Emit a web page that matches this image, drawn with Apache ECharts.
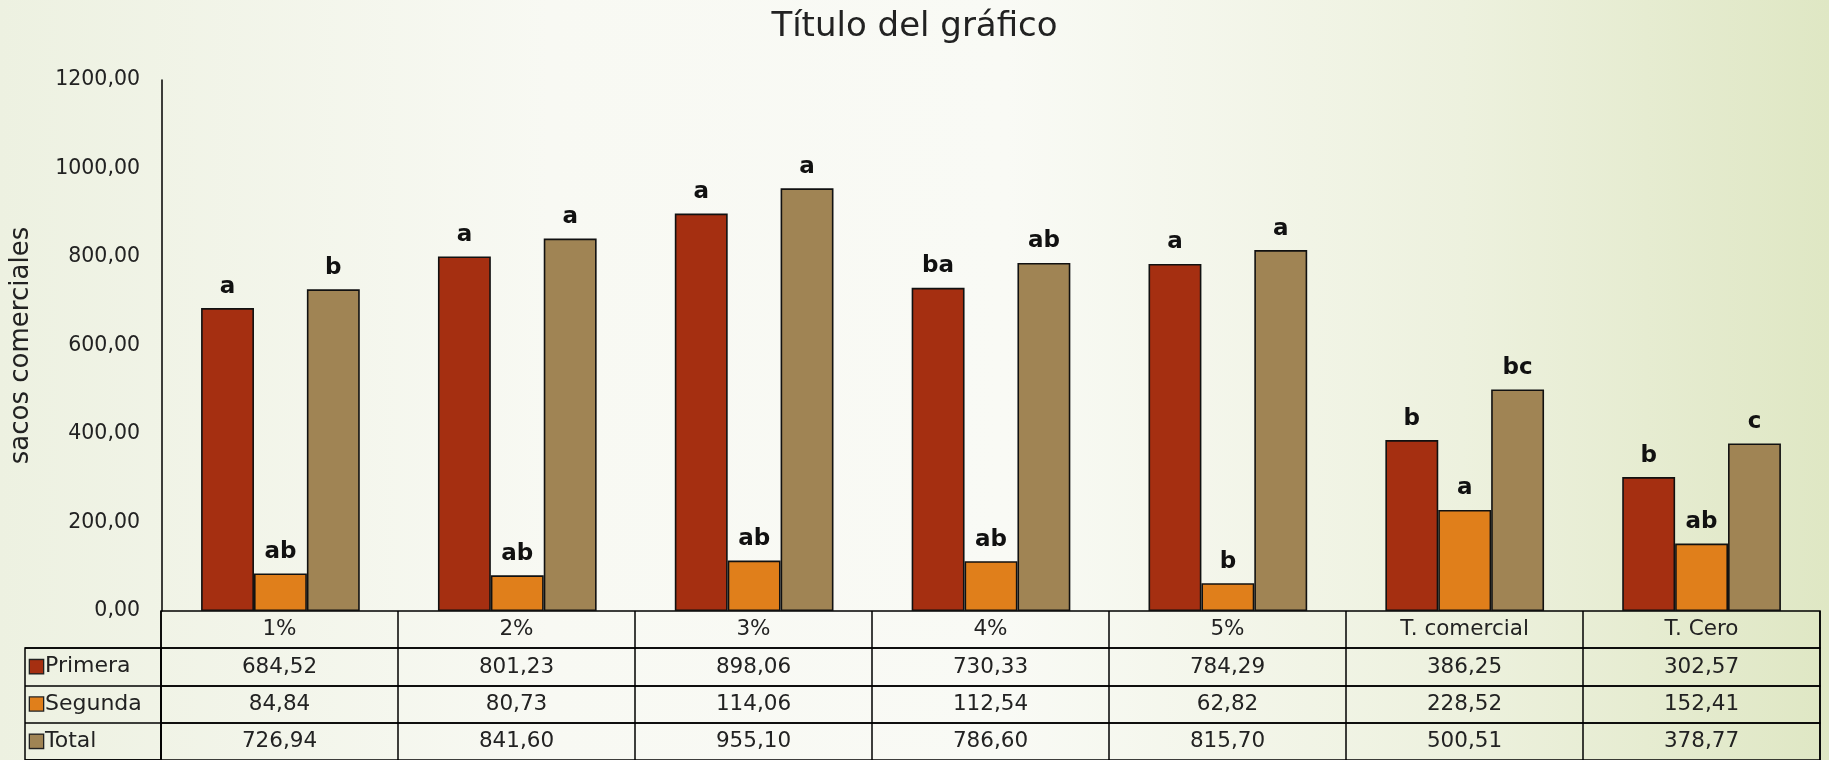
<!DOCTYPE html>
<html>
<head>
<meta charset="utf-8">
<script src="https://cdn.jsdelivr.net/npm/echarts@6/dist/echarts.min.js"></script>
<style>
  html, body { margin: 0; padding: 0; }
  #chart { width: 1829px; height: 760px; }
</style>
</head>
<body>
<div id="chart"></div>
<script>
// datos
const categories = ['1%', '2%', '3%', '4%', '5%', 'T. comercial', 'T. Cero'];
const primera = [684.52, 801.23, 898.06, 730.33, 784.29, 386.25, 302.57];
const segunda = [84.84, 80.73, 114.06, 112.54, 62.82, 228.52, 152.41];
const total = [726.94, 841.60, 955.10, 786.60, 815.70, 500.51, 378.77];
const primeraLetras = ['a', 'a', 'a', 'ba', 'a', 'b', 'b'];
const segundaLetras = ['ab', 'ab', 'ab', 'ab', 'b', 'a', 'ab'];
const totalLetras = ['b', 'a', 'a', 'ab', 'a', 'bc', 'c'];
const serieNombres = ['Primera', 'Segunda', 'Total'];
const yTicks = { min: 0, max: 1200, interval: 200 };

const colores = ['#A52F11', '#E07F1B', '#A08454'];
const FONT = 'DejaVu Sans';
const fmt = (v) => v.toFixed(2).replace('.', ',');

const chart = echarts.init(document.getElementById('chart'));

const LEFT = 161, RIGHT = 9;
// filas de la tabla: [top, height]
const filas = [[611, 37], [648, 38], [686, 37], [723, 40]];
const valoresFila = [null, primera, segunda, total];

const grids = [{ left: LEFT, right: RIGHT, top: 80, bottom: 760 - 611 }];
const xAxes = [{
    type: 'category', gridIndex: 0, data: categories,
    axisLine: { show: false }, axisTick: { show: false }, axisLabel: { show: false }
}];
const yAxes = [{
    type: 'value', gridIndex: 0, min: yTicks.min, max: yTicks.max, interval: yTicks.interval,
    name: 'sacos comerciales', nameLocation: 'middle', nameGap: 128, nameRotate: 90,
    nameTextStyle: { fontFamily: FONT, fontSize: 26, color: '#222' },
    axisLine: { show: true, lineStyle: { color: '#000', width: 1.5 } },
    axisTick: { show: false },
    splitLine: { show: false },
    axisLabel: { fontFamily: FONT, fontSize: 20.5, color: '#222', margin: 22, formatter: (v) => fmt(v) }
}];

filas.forEach(([top, height], i) => {
    grids.push({ left: LEFT, right: RIGHT, top, height, show: true, borderColor: '#000', borderWidth: 1.5, backgroundColor: 'transparent' });
    const vals = valoresFila[i];
    xAxes.push({
        type: 'category', gridIndex: i + 1, data: categories,
        axisLine: { show: false }, axisTick: { show: false },
        splitLine: { show: true, interval: 0, lineStyle: { color: '#000', width: 1.5 } },
        axisLabel: {
            inside: true, interval: 0, margin: (i === 3 ? 38 : height) / 2, verticalAlign: 'middle',
            fontFamily: FONT, fontSize: 21.5, color: '#222',
            formatter: (v, idx) => vals ? fmt(vals[idx]) : v
        }
    });
    yAxes.push({ type: 'value', gridIndex: i + 1, show: false });
});

// columna de leyenda
grids.push({ left: 25, width: LEFT - 25, top: 648, height: 115, show: true, borderColor: '#000', borderWidth: 1.5, backgroundColor: 'transparent' });
const gLeg = grids.length - 1;
xAxes.push({ type: 'value', gridIndex: gLeg, show: false });
yAxes.push({
    type: 'category', gridIndex: gLeg, data: serieNombres, inverse: true,
    axisLine: { show: false }, axisTick: { show: false },
    splitLine: { show: true, interval: 0, lineStyle: { color: '#000', width: 1.5 } },
    axisLabel: {
        inside: true, interval: 0, margin: 5,
        formatter: (v, idx) => '{s' + idx + '|}{t|' + v + '}',
        rich: Object.assign({
            t: { fontFamily: FONT, fontSize: 22, color: '#222', padding: [0, 0, 0, 2] }
        }, ...colores.map((c, k) => ({
            ['s' + k]: { width: 13, height: 13, backgroundColor: c, borderColor: '#222', borderWidth: 1.3 }
        })))
    }
});

const letras = [primeraLetras, segundaLetras, totalLetras];
const datos = [primera, segunda, total];
const series = serieNombres.map((nombre, k) => ({
    name: nombre, type: 'bar', xAxisIndex: 0, yAxisIndex: 0,
    data: datos[k],
    barGap: '0%', barCategoryGap: '33%',
    itemStyle: { color: colores[k], borderColor: '#111', borderWidth: 1.6 },
    label: {
        show: true, position: 'top', distance: 10,
        fontFamily: FONT, fontSize: 23, fontWeight: 'bold', color: '#111',
        formatter: (p) => letras[k][p.dataIndex]
    }
}));

chart.setOption({
    backgroundColor: {
        type: 'linear', x: 0, y: 0, x2: 1, y2: 0,
        colorStops: [
            { offset: 0, color: '#EDF1E1' },
            { offset: 0.3, color: '#F8F9F3' },
            { offset: 0.55, color: '#F9FAF5' },
            { offset: 0.8, color: '#EDF1DE' },
            { offset: 1, color: '#DFE7C4' }
        ]
    },
    animation: false,
    title: {
        text: 'Título del gráfico', left: 'center', top: 5,
        textStyle: { fontFamily: FONT, fontSize: 34, fontWeight: 'normal', color: '#222' }
    },
    grid: grids,
    xAxis: xAxes,
    yAxis: yAxes,
    series
});
</script>
</body>
</html>
